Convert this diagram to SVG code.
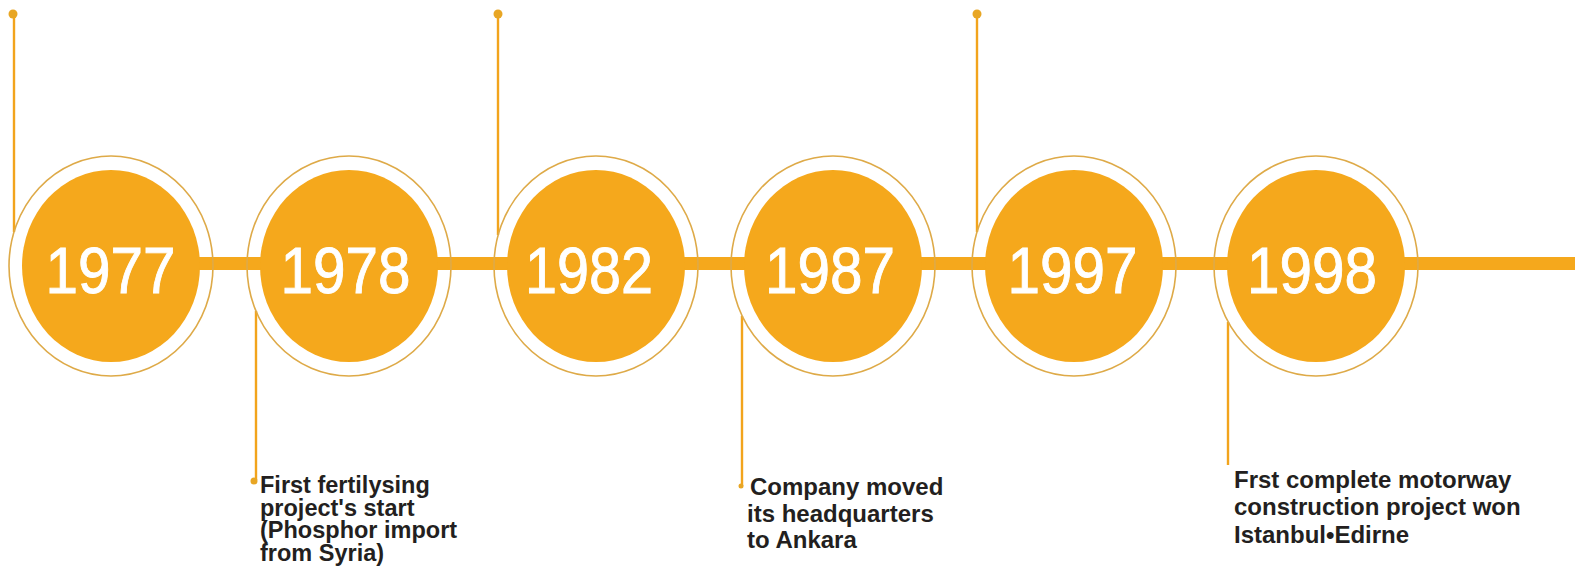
<svg xmlns="http://www.w3.org/2000/svg" width="1583" height="580" viewBox="0 0 1583 580">
<style>
.ring{fill:none;stroke:#deaa48;stroke-width:1.6}
.core{fill:#f5a81c}
.year{font-family:"Liberation Sans",Arial,sans-serif;font-size:64px;fill:#ffffff;stroke:#ffffff;stroke-width:0.9;text-anchor:middle}
.vline{stroke:#f2a41c;stroke-width:2.4;fill:none}
.dot{fill:#e8a624}
.bar{fill:#f5a81c}
.label{font-family:"Liberation Sans",Arial,sans-serif;font-size:24px;font-weight:bold;fill:#231f20}
.tight{font-size:23.5px}
</style>
<rect x="0" y="0" width="1583" height="580" fill="#ffffff"/>
<g id="connectors">
  <rect class="bar" x="111" y="257" width="1464" height="13"/>
  <line class="vline" x1="14" y1="14" x2="14" y2="232"/>
  <circle class="dot" cx="13" cy="14" r="4.5"/>
  <line class="vline" x1="498" y1="14" x2="498" y2="235"/>
  <circle class="dot" cx="498" cy="14" r="4.5"/>
  <line class="vline" x1="977" y1="14" x2="977" y2="232"/>
  <circle class="dot" cx="977" cy="14" r="4.5"/>
  <line class="vline" x1="256" y1="311" x2="256" y2="480"/>
  <circle class="dot" cx="254" cy="481" r="3.5"/>
  <line class="vline" x1="742" y1="316" x2="742" y2="486"/>
  <circle class="dot" cx="741" cy="486" r="2.5"/>
  <line class="vline" x1="1228" y1="322" x2="1228" y2="465"/>
</g>
<g id="node-1977">
  <ellipse class="ring" cx="111" cy="266" rx="102" ry="110"/>
  <ellipse class="core" cx="111" cy="266" rx="89" ry="96"/>
  <text class="year" x="110.5" y="293" textLength="130" lengthAdjust="spacingAndGlyphs">1977</text>
</g>
<g id="node-1978">
  <ellipse class="ring" cx="349" cy="266" rx="102" ry="110"/>
  <ellipse class="core" cx="349" cy="266" rx="89" ry="96"/>
  <text class="year" x="345.5" y="293" textLength="130" lengthAdjust="spacingAndGlyphs">1978</text>
</g>
<g id="node-1982">
  <ellipse class="ring" cx="596" cy="266" rx="102" ry="110"/>
  <ellipse class="core" cx="596" cy="266" rx="89" ry="96"/>
  <text class="year" x="589" y="293" textLength="128" lengthAdjust="spacingAndGlyphs">1982</text>
</g>
<g id="node-1987">
  <ellipse class="ring" cx="833" cy="266" rx="102" ry="110"/>
  <ellipse class="core" cx="833" cy="266" rx="89" ry="96"/>
  <text class="year" x="830" y="293" textLength="130" lengthAdjust="spacingAndGlyphs">1987</text>
</g>
<g id="node-1997">
  <ellipse class="ring" cx="1074" cy="266" rx="102" ry="110"/>
  <ellipse class="core" cx="1074" cy="266" rx="89" ry="96"/>
  <text class="year" x="1072.5" y="293" textLength="130" lengthAdjust="spacingAndGlyphs">1997</text>
</g>
<g id="node-1998">
  <ellipse class="ring" cx="1316" cy="266" rx="102" ry="110"/>
  <ellipse class="core" cx="1316" cy="266" rx="89" ry="96"/>
  <text class="year" x="1312" y="293" textLength="130" lengthAdjust="spacingAndGlyphs">1998</text>
</g>
<g id="label-1978">
  <text class="label tight" x="260" y="493">First fertilysing</text>
  <text class="label tight" x="260" y="515.5">project's start</text>
  <text class="label tight" x="260" y="538">(Phosphor import</text>
  <text class="label tight" x="260" y="560.5">from Syria)</text>
</g>
<g id="label-1987">
  <text class="label" x="750" y="495">Company moved</text>
  <text class="label" x="747" y="521.5">its headquarters</text>
  <text class="label" x="747" y="548">to Ankara</text>
</g>
<g id="label-1998">
  <text class="label" x="1234" y="487.5">Frst complete motorway</text>
  <text class="label" x="1234" y="515">construction project won</text>
  <text class="label" x="1234" y="542.5">Istanbul•Edirne</text>
</g>
</svg>
